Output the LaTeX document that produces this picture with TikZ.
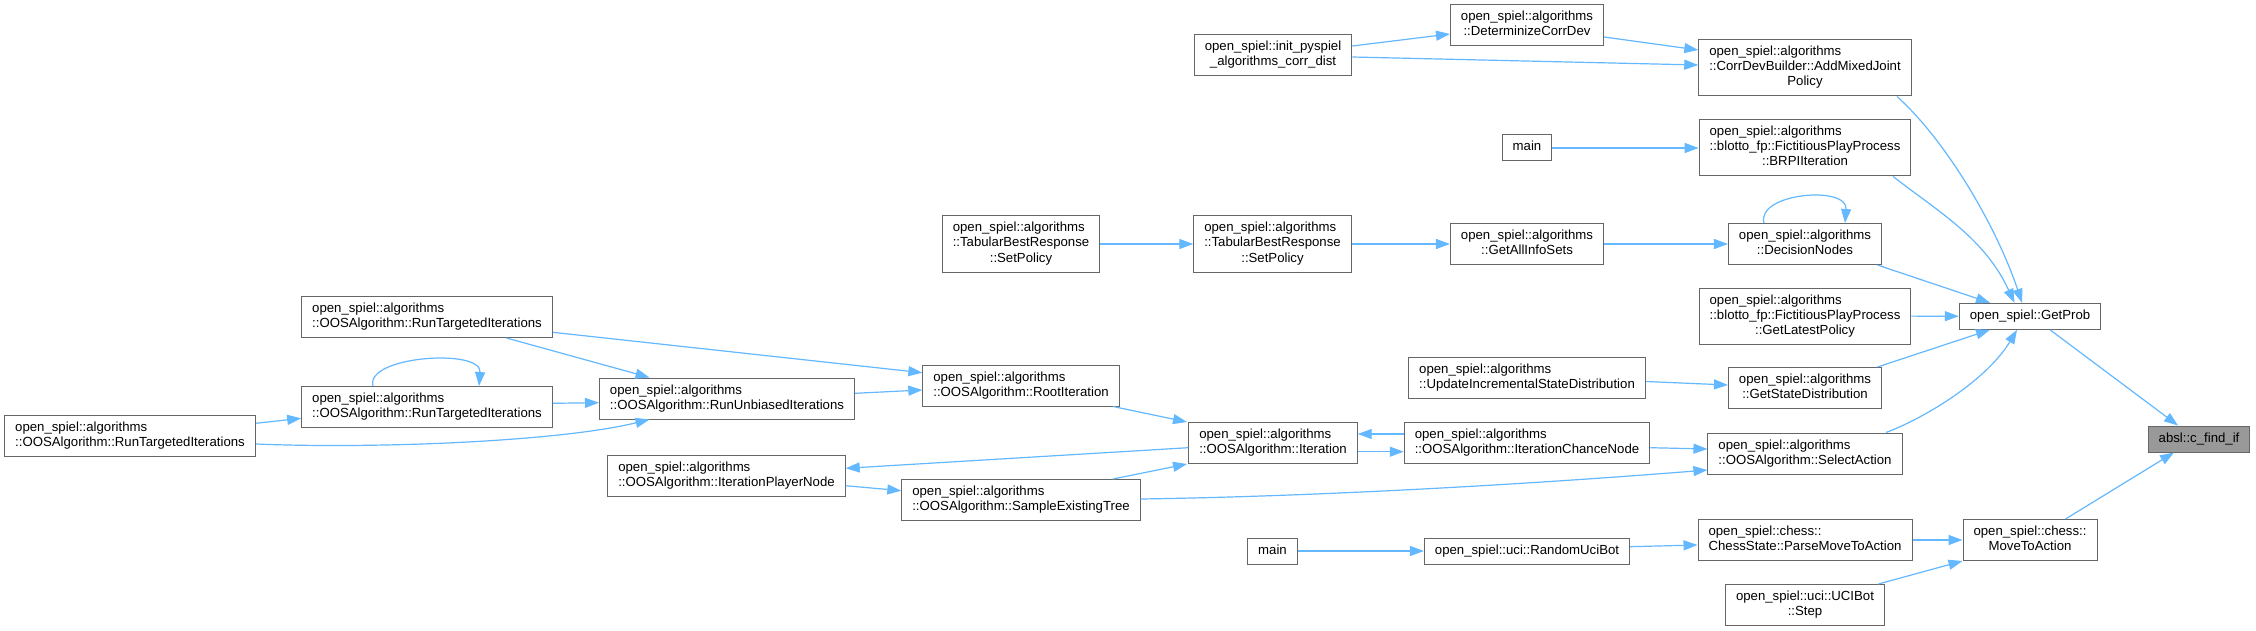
\documentclass[tikz,border=0pt]{standalone}
\usepackage{fontspec}
\setmainfont{Liberation Sans}
\usetikzlibrary{arrows.meta, calc}
\definecolor{edgeblue}{HTML}{63B8FF}
\definecolor{boxgray}{HTML}{666666}
\definecolor{curgray}{HTML}{999999}
\newcommand{\fnlabel}[1]{\begin{tabular}{@{}l@{}}#1\end{tabular}}
\newcommand{\lastln}[1]{\multicolumn{1}{@{}c@{}}{#1}}

\begin{document}
\begin{tikzpicture}[
    x=1pt, y=-1pt,
    fn/.style={rectangle, draw=boxgray, fill=white, line width=1pt,
               inner xsep=10.5pt, inner ysep=5.5pt,
               font=\fontsize{13.2}{15}\selectfont},
    cur/.style={fn, fill=curgray},
    call/.style={-{Triangle[length=14pt, width=10pt]}, line width=1.2pt, color=edgeblue}
]
\path[use as bounding box, fill=white] (0,0) rectangle (2256,631);

%% ── Column 8/7: RunTargetedIterations ──
\node[fn] (rtileft) at (130,436)   {\fnlabel{open\_spiel::algorithms\\\lastln{::OOSAlgorithm::RunTargetedIterations}}};
\node[fn] (rtitop)  at (427,317)   {\fnlabel{open\_spiel::algorithms\\\lastln{::OOSAlgorithm::RunTargetedIterations}}};
\node[fn] (rtimid)  at (427,407)   {\fnlabel{open\_spiel::algorithms\\\lastln{::OOSAlgorithm::RunTargetedIterations}}};

%% ── Column 6/5: OOSAlgorithm ──
\node[fn] (unbiased)   at (727,398.5) {\fnlabel{open\_spiel::algorithms\\\lastln{::OOSAlgorithm::RunUnbiasedIterations}}};
\node[fn] (playernode) at (726.5,476) {\fnlabel{open\_spiel::algorithms\\\lastln{::OOSAlgorithm::IterationPlayerNode}}};
\node[fn] (tbra)       at (1021,244)  {\fnlabel{open\_spiel::algorithms\\::TabularBestResponse\\\lastln{::SetPolicy}}};
\node[fn] (rootit)     at (1021,385.5){\fnlabel{open\_spiel::algorithms\\\lastln{::OOSAlgorithm::RootIteration}}};
\node[fn] (sampletree) at (1021,500)  {\fnlabel{open\_spiel::algorithms\\\lastln{::OOSAlgorithm::SampleExistingTree}}};

%% ── Column 4 ──
\node[fn] (initpy)    at (1273,55)    {\fnlabel{open\_spiel::init\_pyspiel\\\lastln{\_algorithms\_corr\_dist}}};
\node[fn] (tbrb)      at (1272.5,244) {\fnlabel{open\_spiel::algorithms\\::TabularBestResponse\\\lastln{::SetPolicy}}};
\node[fn] (iteration) at (1273,443)   {\fnlabel{open\_spiel::algorithms\\\lastln{::OOSAlgorithm::Iteration}}};
\node[fn] (mainb)     at (1272.5,551) {\fnlabel{main}};

%% ── Column 3 ──
\node[fn] (determ)     at (1527,25)    {\fnlabel{open\_spiel::algorithms\\\lastln{::DeterminizeCorrDev}}};
\node[fn] (maina)      at (1527,148)   {\fnlabel{main}};
\node[fn] (allinfo)    at (1527,244)   {\fnlabel{open\_spiel::algorithms\\\lastln{::GetAllInfoSets}}};
\node[fn] (updinc)     at (1527,377.5) {\fnlabel{open\_spiel::algorithms\\\lastln{::UpdateIncrementalStateDistribution}}};
\node[fn] (chancenode) at (1527,443)   {\fnlabel{open\_spiel::algorithms\\\lastln{::OOSAlgorithm::IterationChanceNode}}};
\node[fn] (randuci)    at (1527,551)   {\fnlabel{open\_spiel::uci::RandomUciBot}};

%% ── Column 2 ──
\node[fn] (addmixed)  at (1805,68)    {\fnlabel{open\_spiel::algorithms\\::CorrDevBuilder::AddMixedJoint\\\lastln{Policy}}};
\node[fn] (brpi)      at (1805,148)   {\fnlabel{open\_spiel::algorithms\\::blotto\_fp::FictitiousPlayProcess\\\lastln{::BRPIIteration}}};
\node[fn] (decnodes)  at (1805,244)   {\fnlabel{open\_spiel::algorithms\\\lastln{::DecisionNodes}}};
\node[fn] (latestpol) at (1805,316)   {\fnlabel{open\_spiel::algorithms\\::blotto\_fp::FictitiousPlayProcess\\\lastln{::GetLatestPolicy}}};
\node[fn] (statedist) at (1805,388)   {\fnlabel{open\_spiel::algorithms\\\lastln{::GetStateDistribution}}};
\node[fn] (selectact) at (1805,453.5) {\fnlabel{open\_spiel::algorithms\\\lastln{::OOSAlgorithm::SelectAction}}};
\node[fn] (parsemove) at (1805,540)   {\fnlabel{open\_spiel::chess::\\\lastln{ChessState::ParseMoveToAction}}};
\node[fn] (ucistep)   at (1805,605)   {\fnlabel{open\_spiel::uci::UCIBot\\\lastln{::Step}}};

%% ── Column 1/0 ──
\node[fn]  (getprob)   at (2030,316.3) {\fnlabel{open\_spiel::GetProb}};
\node[fn]  (movetoact) at (2030,540)   {\fnlabel{open\_spiel::chess::\\\lastln{MoveToAction}}};
\node[cur] (cfind)     at (2199,439)   {\fnlabel{absl::c\_find\_if}};

%% ── RunTargetedIterations callers ──
\draw[call] ($(rtileft.east)+(0,-12.7)$) -- ($(rtimid.west)+(0,11.3)$);
\draw[call] ($(rtileft.east)+(0,8)$) .. controls +(120,5) and +(-90,22) .. ($(unbiased.south)+(-77.5,0)$);
\draw[call] ($(rtimid.north)+(-54,0)$) .. controls +(-8,-30) and +(3,-38) .. ($(rtimid.north)+(52,0)$);
\draw[call] ($(rtimid.east)+(0,-3.7)$) -- ($(unbiased.west)+(0,4.2)$);
\draw[call] ($(rtitop.south)+(79.5,0)$) -- ($(unbiased.north)+(-77.5,0)$);
\draw[call] ($(rtitop.east)+(0,15.3)$) -- ($(rootit.west)+(0,-12.8)$);
\draw[call] ($(unbiased.east)+(0,-5.2)$) -- ($(rootit.west)+(0,4.5)$);

%% ── OOSAlgorithm chain ──
\draw[call] ($(rootit.south)+(92,0)$) -- ($(iteration.north)+(-86,0)$);
\draw[call] ($(sampletree.north)+(92,0)$) -- ($(iteration.south)+(-86,0)$);
\draw[call] ($(iteration.west)+(0,4.7)$) -- ($(playernode.east)+(0,-7.7)$);
\draw[call] ($(playernode.east)+(0,9.7)$) -- ($(sampletree.west)+(0,-9.3)$);
\draw[call] ($(chancenode.west)+(0,-9)$) -- ($(iteration.east)+(0,-9)$);
\draw[call] ($(iteration.east)+(0,8.7)$) -- ($(chancenode.west)+(0,8.7)$);
\draw[call] ($(chancenode.east)+(0,4.7)$) -- ($(selectact.west)+(0,-4.5)$);
\draw[call] ($(sampletree.east)+(0,-1)$) .. controls +(200,-3) and +(-150,12) .. ($(selectact.west)+(0,16.5)$);

%% ── TabularBestResponse / DecisionNodes ──
\draw[call] (tbra) -- (tbrb);
\draw[call] (tbrb) -- (allinfo);
\draw[call] (allinfo) -- (decnodes);
\draw[call] ($(decnodes.north)+(-41,0)$) .. controls +(-8,-30) and +(3,-38) .. ($(decnodes.north)+(40,0)$);

%% ── corr_dist / blotto ──
\draw[call] ($(initpy.east)+(0,-9)$) -- ($(determ.west)+(0,9)$);
\draw[call] ($(determ.east)+(0,12)$) -- ($(addmixed.west)+(0,-18)$);
\draw[call] ($(initpy.east)+(0,2)$) -- ($(addmixed.west)+(0,-3)$);
\draw[call] (maina) -- (brpi);

%% ── into GetProb ──
\draw[call] ($(addmixed.south)+(92,0)$) .. controls +(50,45) and +(-25,-75) .. ($(getprob.north)+(-8,0)$);
\draw[call] ($(brpi.south)+(88,0)$) .. controls +(45,35) and +(-30,-65) .. ($(getprob.north)+(-15.5,0)$);
\draw[call] ($(decnodes.south)+(72.4,0)$) -- ($(getprob.north)+(-40,0)$);
\draw[call] (latestpol) -- (getprob);
\draw[call] ($(updinc.east)+(0,4)$) -- ($(statedist.west)+(0,-3)$);
\draw[call] ($(statedist.north)+(72.4,0)$) -- ($(getprob.south)+(-40,0)$);
\draw[call] ($(selectact.north)+(81,0)$) .. controls +(40,-15) and +(-30,50) .. ($(getprob.south)+(-13,0)$);

%% ── chess / uci ──
\draw[call] (mainb) -- (randuci);
\draw[call] ($(randuci.east)+(0,-4.3)$) -- ($(parsemove.west)+(0,5)$);
\draw[call] (parsemove) -- (movetoact);
\draw[call] ($(ucistep.north)+(73.4,0)$) -- ($(movetoact.west)+(0,21)$);

%% ── into c_find_if ──
\draw[call] ($(getprob.south)+(20,0)$) -- ($(cfind.north)+(-21,0)$);
\draw[call] ($(movetoact.north)+(35.5,0)$) -- ($(cfind.south)+(-25,0)$);

\end{tikzpicture}
\end{document}
